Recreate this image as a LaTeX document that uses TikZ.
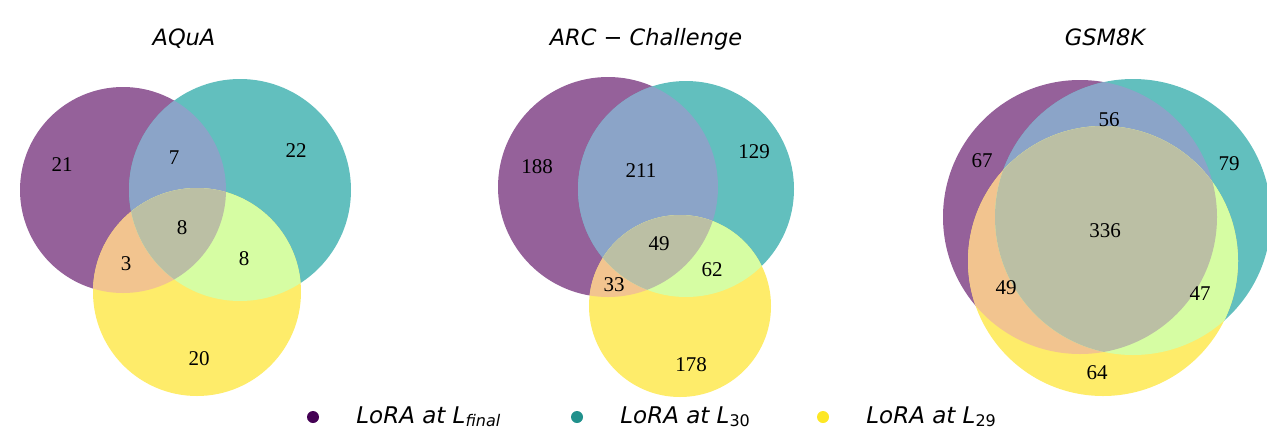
\documentclass[tikz,border=0pt]{standalone}
\usepackage{fontspec}
\setmainfont{Liberation Serif}
\newfontfamily\sansit{DejaVu Sans}
\usepackage{xcolor}
\usetikzlibrary{positioning}
\definecolor{onlyA}{HTML}{95619A}
\definecolor{onlyB}{HTML}{62BFBE}
\definecolor{onlyC}{HTML}{FEEC6A}
\definecolor{bothAB}{HTML}{8BA4C8}
\definecolor{bothAC}{HTML}{F2C48F}
\definecolor{bothBC}{HTML}{D6FDA3}
\definecolor{allABC}{HTML}{BBBFA4}
\definecolor{dotA}{HTML}{440154}
\definecolor{dotB}{HTML}{21918C}
\definecolor{dotC}{HTML}{FDE725}
\newcommand{\lsub}[1]{\raisebox{-3pt}{\fontsize{16}{16}\selectfont #1}}

\begin{document}
\begin{tikzpicture}[x=1pt, y=-1pt,
  regnum/.style={font=\fontsize{21}{24}\selectfont, inner sep=0pt, text height=14pt, text depth=0pt},
  settitle/.style={font=\sansit\itshape\fontsize{22.5}{26}\selectfont, inner sep=0pt, text height=16pt, text depth=0pt},
  legdot/.style={circle, fill=#1, minimum size=12pt, inner sep=0pt},
  legtext/.style={font=\sansit\itshape\fontsize{23}{26}\selectfont, inner sep=0pt, text height=16pt, text depth=3pt}]
\useasboundingbox (0,0) rectangle (1267,432);
% three sets per diagram: A (L_final), B (L_30), C (L_29)
\foreach \ax/\ay/\ar/\bx/\by/\br/\cx/\cy/\cr in {123/190/103/240/190/111/197/292/104, 608/187/110/686/189/108/680/306/91, 1080/217/137/1133/217/138/1103/261/135} {
  \fill[onlyA] (\ax,\ay) circle (\ar pt);
  \fill[onlyB] (\bx,\by) circle (\br pt);
  \fill[onlyC] (\cx,\cy) circle (\cr pt);
  \begin{scope}
    \clip (\ax,\ay) circle (\ar pt);
    \fill[bothAB] (\bx,\by) circle (\br pt);
    \fill[bothAC] (\cx,\cy) circle (\cr pt);
  \end{scope}
  \begin{scope}
    \clip (\bx,\by) circle (\br pt);
    \fill[bothBC] (\cx,\cy) circle (\cr pt);
  \end{scope}
  \begin{scope}
    \clip (\ax,\ay) circle (\ar pt);
    \clip (\bx,\by) circle (\br pt);
    \fill[allABC] (\cx,\cy) circle (\cr pt);
  \end{scope}
}
% AQuA
\node[settitle] (aqua) at (184,37) {AQuA};
\node[regnum] (aqua-a) at (62,164) {21};
\node[regnum] (aqua-b) at (296,150) {22};
\node[regnum] (aqua-c) at (199,358) {20};
\node[regnum] (aqua-ab) at (174,157) {7};
\node[regnum] (aqua-ac) at (126,263) {3};
\node[regnum] (aqua-bc) at (244,258) {8};
\node[regnum] (aqua-abc) at (182,227) {8};
% ARC - Challenge
\node[settitle] (arc) at (646,37) {ARC − Challenge};
\node[regnum] (arc-a) at (537,166) {188};
\node[regnum] (arc-b) at (754,151) {129};
\node[regnum] (arc-c) at (691,364) {178};
\node[regnum] (arc-ab) at (641,170) {211};
\node[regnum] (arc-ac) at (614,284) {33};
\node[regnum] (arc-bc) at (712,269) {62};
\node[regnum] (arc-abc) at (659,243) {49};
% GSM8K
\node[settitle] (gsm) at (1105,37) {GSM8K};
\node[regnum] (gsm-a) at (982,160) {67};
\node[regnum] (gsm-b) at (1229,163) {79};
\node[regnum] (gsm-c) at (1097,372) {64};
\node[regnum] (gsm-ab) at (1109,119) {56};
\node[regnum] (gsm-ac) at (1006,287) {49};
\node[regnum] (gsm-bc) at (1200,293) {47};
\node[regnum] (gsm-abc) at (1105,230) {336};
% legend
\node[legdot=dotA] (leg-a) at (313,417) {};
\node[legtext, right=37pt of leg-a] (leg-a-text) {LoRA at L\lsub{final}};
\node[legdot=dotB] (leg-b) at (577,417) {};
\node[legtext, right=37pt of leg-b] (leg-b-text) {LoRA at L\lsub{\upshape 30}};
\node[legdot=dotC] (leg-c) at (823,417) {};
\node[legtext, right=37pt of leg-c] (leg-c-text) {LoRA at L\lsub{\upshape 29}};
\end{tikzpicture}
\end{document}
